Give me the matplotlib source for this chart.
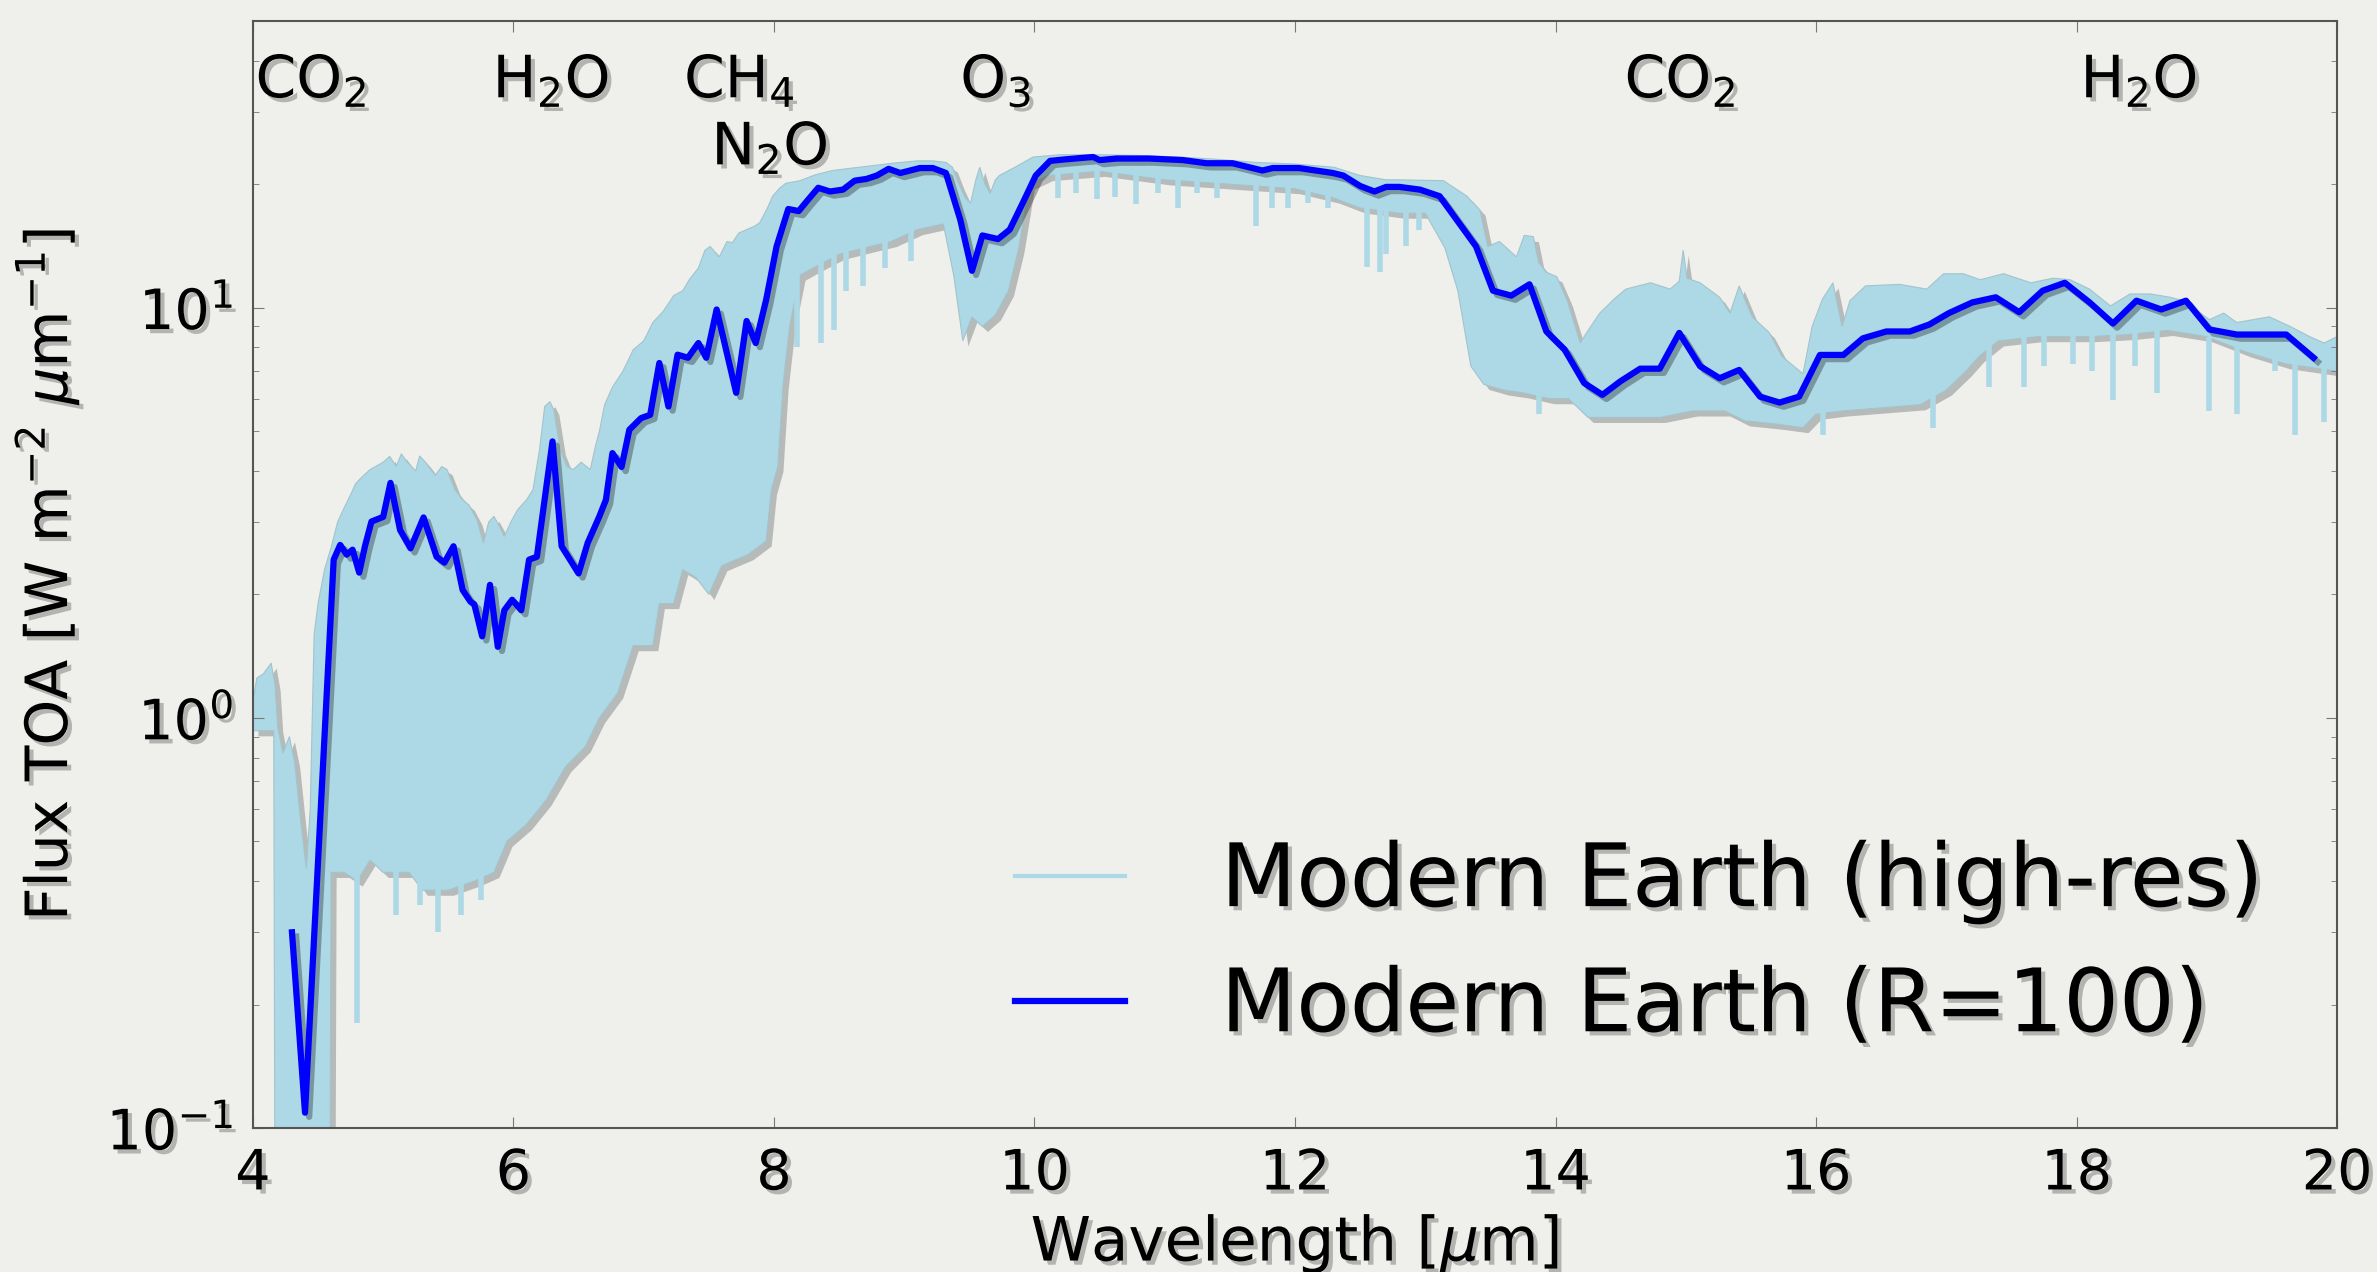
import matplotlib.pyplot as plt
import matplotlib.patheffects as pe
from matplotlib.lines import Line2D
import numpy as np

# R=100 spectrum (blue line)
wl_r100 = [4.30, 4.40, 4.62, 4.67, 4.72, 4.765, 4.816, 4.86, 4.91, 5.00, 5.056, 5.13, 5.21, 5.31,
           5.41, 5.47, 5.54, 5.61, 5.67, 5.70, 5.76, 5.82, 5.88, 5.93, 5.99, 6.06, 6.12, 6.18,
           6.30, 6.37, 6.50, 6.57, 6.66, 6.71, 6.76, 6.83, 6.89, 6.98, 7.05, 7.12, 7.19, 7.26,
           7.34, 7.42, 7.48, 7.56, 7.71, 7.79, 7.86, 7.94, 8.02, 8.11, 8.19, 8.26, 8.34, 8.43,
           8.53, 8.62, 8.71, 8.79, 8.88, 8.97, 9.12, 9.22, 9.32, 9.43, 9.52, 9.60, 9.72, 9.81,
           9.91, 10.01, 10.12, 10.24, 10.45, 10.50, 10.63, 10.88, 11.14, 11.32, 11.52, 11.75,
           11.83, 12.03, 12.29, 12.37, 12.50, 12.61, 12.70, 12.80, 12.96, 13.11, 13.24, 13.39,
           13.52, 13.66, 13.80, 13.93, 14.07, 14.22, 14.36, 14.50, 14.65, 14.80, 14.95, 15.11,
           15.26, 15.41, 15.57, 15.72, 15.87, 16.03, 16.21, 16.36, 16.54, 16.72, 16.87, 17.02,
           17.20, 17.38, 17.56, 17.74, 17.91, 18.10, 18.28, 18.46, 18.65, 18.84, 19.02, 19.23,
           19.43, 19.61, 19.82]
flux_r100 = [0.30, 0.109, 2.43, 2.64, 2.50, 2.57, 2.26, 2.62, 3.01, 3.09, 3.74, 2.87, 2.59, 3.08,
             2.47, 2.39, 2.62, 2.05, 1.92, 1.89, 1.58, 2.11, 1.49, 1.83, 1.94, 1.83, 2.43, 2.47,
             4.72, 2.62, 2.25, 2.67, 3.10, 3.40, 4.42, 4.09, 5.04, 5.38, 5.48, 7.33, 5.74, 7.68,
             7.55, 8.20, 7.55, 9.90, 6.20, 9.28, 8.20, 10.45, 14.1, 17.4, 17.2, 18.3, 19.6, 19.2,
             19.4, 20.4, 20.6, 21.0, 21.8, 21.3, 21.9, 21.9, 21.3, 16.4, 12.3, 15.0, 14.7, 15.5,
             18.0, 21.0, 22.8, 23.0, 23.3, 22.9, 23.1, 23.1, 22.9, 22.5, 22.5, 21.6,
             21.9, 21.9, 21.3, 21.0, 19.8, 19.2, 19.7, 19.7, 19.4, 18.7, 16.4, 14.1,
             11.0, 10.7, 11.4, 8.75, 7.90, 6.55, 6.13, 6.62, 7.10, 7.10, 8.68, 7.20,
             6.73, 7.05, 6.07, 5.87, 6.07, 7.67, 7.67, 8.42, 8.75, 8.75, 9.10, 9.70,
             10.3, 10.6, 9.75, 11.0, 11.5, 10.3, 9.15, 10.4, 9.90, 10.4, 8.85, 8.60,
             8.60, 8.60, 7.55]

# high-res spectrum: upper edge of the band
hr_top_wl = [4.00, 4.03, 4.08, 4.14, 4.17, 4.19, 4.23, 4.28, 4.32, 4.37, 4.41, 4.44, 4.47, 4.50,
             4.55, 4.60, 4.65, 4.69, 4.75, 4.79, 4.85, 4.90, 5.00, 5.05, 5.10, 5.14, 5.18, 5.25,
             5.28, 5.33, 5.40, 5.45, 5.49, 5.55, 5.61, 5.66, 5.72, 5.77, 5.81, 5.85, 5.90, 5.93,
             5.98, 6.03, 6.10, 6.15, 6.20, 6.24, 6.28, 6.31, 6.36, 6.41, 6.46, 6.52, 6.59, 6.63,
             6.66, 6.70, 6.76, 6.84, 6.92, 7.00, 7.07, 7.15, 7.23, 7.30, 7.35, 7.42, 7.47, 7.51,
             7.58, 7.64, 7.68, 7.73, 7.79, 7.85, 7.89, 7.95, 7.99, 8.04, 8.09, 8.20, 8.32, 8.45,
             8.60, 8.71, 8.91, 9.10, 9.22, 9.32, 9.37, 9.42, 9.47, 9.51, 9.55, 9.58, 9.62, 9.66,
             9.70, 9.73, 9.85, 9.99, 10.2, 10.5, 10.8, 11.1, 11.4, 11.7, 12.0, 12.3, 12.5, 12.7,
             12.8, 13.14, 13.32, 13.42, 13.48, 13.57, 13.70, 13.76, 13.83, 13.87, 13.93, 14.01,
             14.09, 14.19, 14.24, 14.34, 14.45, 14.54, 14.73, 14.88, 14.95, 14.98, 15.01, 15.11,
             15.26, 15.34, 15.41, 15.51, 15.64, 15.74, 15.90, 15.97, 16.05, 16.13, 16.20, 16.26,
             16.38, 16.64, 16.85, 16.98, 17.13, 17.26, 17.44, 17.65, 17.82, 17.95, 18.10, 18.26,
             18.41, 18.57, 18.72, 18.82, 19.02, 19.13, 19.23, 19.48, 19.64, 19.79, 19.90, 20.00]
hr_top_flux = [1.10, 1.25, 1.28, 1.36, 1.20, 0.95, 0.82, 0.90, 0.78, 0.55, 0.43, 0.60, 1.60, 1.90,
               2.30, 2.60, 3.00, 3.20, 3.50, 3.73, 3.90, 4.03, 4.20, 4.34, 4.10, 4.40, 4.22, 4.00,
               4.35, 4.18, 3.90, 4.10, 4.03, 3.60, 3.40, 3.30, 3.04, 2.67, 3.00, 3.10, 2.90, 2.77,
               3.00, 3.21, 3.40, 3.60, 4.50, 5.74, 5.90, 5.64, 4.50, 4.10, 4.03, 4.20, 4.03, 4.60,
               5.00, 5.80, 6.40, 7.00, 7.90, 8.30, 9.20, 9.80, 10.7, 11.0, 11.7, 12.5, 13.8, 14.1,
               13.3, 14.5, 14.4, 15.2, 15.5, 15.8, 16.1, 17.5, 18.7, 19.5, 20.1, 20.4, 21.1, 21.6,
               21.9, 22.1, 22.5, 22.8, 22.8, 22.6, 22.0, 20.0, 18.5, 18.0, 20.5, 22.0, 20.0, 19.0,
               20.5, 21.0, 22.0, 23.3, 23.6, 23.6, 23.5, 23.3, 23.0, 22.6, 22.4, 22.0, 21.0, 20.5,
               20.5, 20.4, 18.7, 17.3, 14.1, 14.5, 13.3, 15.0, 14.9, 12.9, 12.2, 11.9,
               10.4, 8.20, 8.70, 9.70, 10.5, 11.1, 11.5, 11.1, 11.6, 13.8, 11.8, 11.5,
               10.6, 9.70, 11.3, 9.50, 8.70, 7.60, 6.90, 9.00, 10.5, 11.5, 9.00, 10.4,
               11.3, 11.4, 11.1, 12.1, 12.1, 11.7, 12.1, 11.5, 11.8, 11.7, 11.1, 10.1,
               10.8, 10.8, 10.6, 10.4, 9.35, 9.70, 9.20, 9.50, 9.00, 8.50, 8.20, 8.50]

# high-res spectrum: lower edge of the band
hr_bot_wl = [4.00, 4.16, 4.17, 4.59, 4.60, 4.70, 4.80, 4.90, 5.00, 5.20, 5.30, 5.50, 5.70, 5.85,
             5.95, 6.10, 6.25, 6.40, 6.55, 6.66, 6.80, 6.92, 7.07, 7.12, 7.23, 7.30, 7.40, 7.50,
             7.60, 7.80, 7.94, 7.98, 8.03, 8.07, 8.12, 8.20, 8.30, 8.50, 8.70, 8.90, 9.10, 9.30,
             9.38, 9.45, 9.52, 9.60, 9.70, 9.80, 9.88, 9.96, 10.1, 10.5, 11.0, 11.5, 12.0, 12.3,
             12.5, 12.8, 13.0, 13.15, 13.25, 13.35, 13.45, 13.60, 13.75, 13.95, 14.10, 14.25,
             14.80, 15.05, 15.30, 15.45, 15.70, 15.90, 16.00, 16.20, 16.80, 17.00, 17.15, 17.25,
             17.40, 17.70, 18.10, 18.40, 18.70, 19.00, 19.30, 19.60, 20.00]
hr_bot_flux = [0.93, 0.93, 0.05, 0.05, 0.42, 0.42, 0.40, 0.45, 0.42, 0.42, 0.38, 0.38, 0.40, 0.42,
               0.50, 0.55, 0.63, 0.76, 0.85, 1.00, 1.15, 1.50, 1.50, 1.90, 1.90, 2.30, 2.20, 2.00,
               2.35, 2.50, 2.70, 3.60, 4.10, 6.50, 9.00, 12.0, 12.5, 13.5, 14.0, 14.5, 15.5, 16.0,
               12.0, 8.30, 9.50, 9.00, 9.60, 11.0, 14.0, 20.0, 21.0, 21.5, 20.5, 20.0, 19.5, 18.5,
               17.5, 17.0, 17.0, 14.0, 11.0, 7.20, 6.50, 6.30, 6.20, 6.00, 6.00, 5.40,
               5.40, 5.60, 5.60, 5.30, 5.20, 5.10, 5.50, 5.60, 5.80, 6.30, 7.00, 7.60,
               8.30, 8.50, 8.50, 8.60, 8.80, 8.50, 7.80, 7.30, 7.00]

# narrow absorption lines of the high-res spectrum
line_wl = [4.80, 5.10, 5.28, 5.42, 5.60, 5.75, 8.18, 8.36, 8.46, 8.55, 8.68, 8.85, 9.05,
           10.18, 10.32, 10.48, 10.62, 10.78, 10.95, 11.10, 11.25, 11.40, 11.70, 11.82, 11.95,
           12.10, 12.25, 12.55, 12.65, 12.70, 12.85, 12.95, 13.87, 16.05, 16.90, 17.33, 17.60,
           17.75, 17.97, 18.12, 18.28, 18.45, 18.62, 19.02, 19.23, 19.52, 19.68, 19.90]
line_lo = [0.18, 0.33, 0.35, 0.30, 0.33, 0.36, 8.0, 8.2, 8.8, 11.0, 11.3, 12.5, 13.0,
           18.5, 19.0, 18.4, 18.6, 17.9, 19.0, 17.5, 19.0, 18.5, 15.8, 17.5, 17.5,
           18.0, 17.5, 12.6, 12.2, 13.5, 14.1, 15.5, 5.5, 4.9, 5.1, 6.4, 6.4,
           7.2, 7.3, 7.0, 5.96, 7.2, 6.2, 5.6, 5.5, 7.0, 4.9, 5.25]
line_hi = [0.45, 0.45, 0.45, 0.42, 0.42, 0.45, 14, 14, 15, 15, 15, 16, 16,
           22, 22, 22, 22, 22, 22, 22, 22, 22, 21, 21, 21,
           21, 21, 19, 19, 19, 19, 19, 8, 7, 7, 9, 9,
           9, 9, 9, 9, 9, 9, 8.5, 8, 8, 8, 7.5]

# molecule labels
mol_names = [r'CO$_2$', r'H$_2$O', r'CH$_4$', r'N$_2$O', r'O$_3$', r'CO$_2$', r'H$_2$O']
mol_wl = [4.02, 5.84, 7.31, 7.52, 9.43, 14.53, 18.03]
mol_flux = [32.5, 32.5, 32.5, 22.3, 32.5, 32.5, 32.5]

bg = '#efefec'
shadow_txt = [pe.withSimplePatchShadow(offset=(3, -3), shadow_rgbFace='k', alpha=0.25)]

fig = plt.figure(figsize=(23.77, 12.72), dpi=100, facecolor=bg)
ax = fig.add_axes([0.1064, 0.1132, 0.8768, 0.8703])
ax.set_facecolor(bg)

# high-res band
poly_x = np.concatenate([hr_top_wl, hr_bot_wl[::-1]])
poly_y = np.concatenate([hr_top_flux, hr_bot_flux[::-1]])
ax.fill(poly_x, poly_y, color='lightblue', ec='#a3c4cc', lw=0.8,
        path_effects=[pe.SimplePatchShadow(offset=(4, -4), alpha=0.3), pe.Normal()])
ax.vlines(line_wl, line_lo, line_hi, color='lightblue', lw=4)

# R=100 line
ax.plot(wl_r100, flux_r100, color='blue', lw=4.5,
        path_effects=[pe.SimpleLineShadow(offset=(3, -3), alpha=0.3), pe.Normal()])

for name, xw, yf in zip(mol_names, mol_wl, mol_flux):
    ax.text(xw, yf, name, fontsize=42, ha='left', va='baseline', path_effects=shadow_txt)

ax.set_yscale('log')
ax.set_xlim(4, 20)
ax.set_ylim(0.1, 50)
ax.set_xticks(np.arange(4, 21, 2))

ax.tick_params(which='both', direction='in', top=True, right=True, color='#777777')
ax.tick_params(which='major', length=8, labelsize=40, pad=14)
ax.tick_params(which='minor', length=4)
for sp in ax.spines.values():
    sp.set_color('#555555')
    sp.set_linewidth(1.5)
for lab in ax.get_xticklabels() + ax.get_yticklabels():
    lab.set_path_effects(shadow_txt)

ax.set_xlabel(r'Wavelength [$\mu$m]', fontsize=44, labelpad=8, path_effects=shadow_txt)
ax.set_ylabel(r'Flux TOA [W m$^{-2}$ $\mu$m$^{-1}$]', fontsize=42, labelpad=18,
              path_effects=shadow_txt)

handles = [Line2D([], [], color='lightblue', lw=3),
           Line2D([], [], color='blue', lw=4.5)]
leg = ax.legend(handles, ['Modern Earth (high-res)', 'Modern Earth (R=100)'],
                loc='lower right', bbox_to_anchor=(1.003, 0.0), frameon=False,
                fontsize=63, handlelength=1.25, handletextpad=1.1, labelspacing=0.47)
for t in leg.get_texts():
    t.set_path_effects(shadow_txt)

fig.savefig('out.png', dpi=100, facecolor=bg)
